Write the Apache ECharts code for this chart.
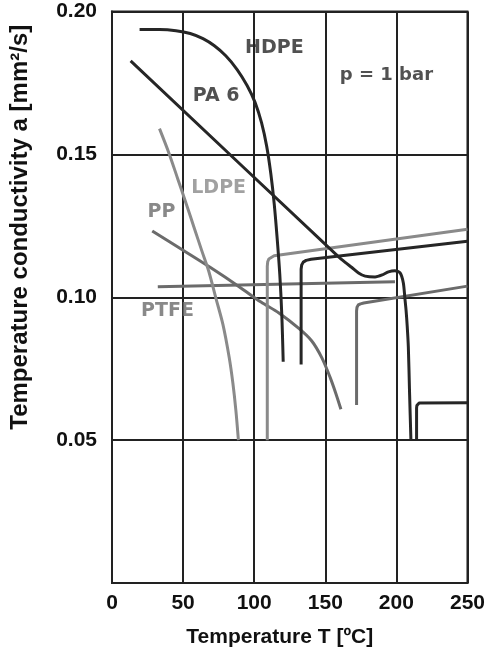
<!DOCTYPE html>
<html><head><meta charset="utf-8">
<script src="https://cdn.jsdelivr.net/npm/echarts/dist/echarts.min.js"></script>
<style>html,body{margin:0;padding:0;background:#fff}#c{width:488px;height:653px}</style>
</head><body><div id="c"></div><script>
// Temperature T [°C] vs temperature conductivity a [mm²/s]
const xTicks = [0, 50, 100, 150, 200, 250];
const yTicks = [0, 0.05, 0.10, 0.15, 0.20];

const hdpeSolid = [[19.4,0.1937],[33.4,0.1937],[45,0.1933],[55,0.1923],[64,0.1905],[72,0.1880],[80,0.1845],[88,0.1797],[95,0.1741],[100.6,0.1682],[105.2,0.1610],[108.8,0.1528],[111.7,0.1432],[114.1,0.1326],[116.2,0.1203],[118.0,0.1080],[119.4,0.0940],[120.4,0.0774]];
const hdpeMelt = [[133,0.0765],[133,0.1098],[133.4,0.1113],[134.5,0.1123],[136.5,0.1129],[140,0.1133],[250,0.1196]];

const pa6Solid = [[13.1,0.1827],[159,0.1143],[164,0.1122],[168.7,0.1104],[173.4,0.1085],[178,0.1074],[185,0.1071],[190,0.1078],[194.4,0.1089],[199,0.1093],[202.6,0.1085],[204.9,0.1050],[206,0.0995],[206.8,0.0955],[207.6,0.0900],[208.4,0.0827],[209.3,0.0660],[210.2,0.0504]];
const pa6Melt = [[214.2,0.0504],[214.2,0.0612],[214.4,0.0621],[215,0.0627],[216,0.0630],[250,0.0631]];

const ldpeSolid = [[33.4,0.1590],[40,0.1505],[46.2,0.1415],[52,0.1330],[58,0.1240],[63,0.1165],[68,0.1092],[73,0.0998],[78,0.0905],[82.4,0.0790],[85,0.0700],[87.1,0.0605],[88.9,0.0500]];
const ldpeMelt = [[109.2,0.0500],[109.2,0.1108],[109.5,0.1124],[110.3,0.1134],[111.7,0.1140],[114,0.1145],[250,0.1238]];

const ppSolid = [[28.3,0.1232],[49.7,0.1165],[69.8,0.1102],[89.4,0.1037],[104.8,0.0983],[117.4,0.0945],[131.4,0.0891],[140.5,0.0847],[147.7,0.0787],[153.6,0.0717],[157.3,0.0665],[161.0,0.0608]];
const ppMelt = [[172,0.0623],[172,0.0952],[172.3,0.0965],[173.2,0.0973],[174.8,0.0977],[177,0.0980],[250,0.1039]];

const ptfe = [[32.2,0.1037],[199,0.1054]];

const labelNames = ['HDPE', 'PA 6', 'LDPE', 'PP', 'PTFE', 'p = 1 bar'];
const labelAt = [[114.2,0.1871],[73.3,0.1705],[75.0,0.1381],[34.8,0.1299],[39.0,0.0953],[193,0.1777]];

const DARK = '#262626', LIGHT = '#8a8a8a', MID = '#6b6b6b';
const labelColors = [DARK, DARK, LIGHT, MID, MID, DARK];

function line(data, color, smooth) {
  return {type:'line', data:data, showSymbol:false, symbol:'none', smooth:smooth, silent:true,
    lineStyle:{color:color, width:3, cap:'butt', join:'round'}, z:3};
}

const chart = echarts.init(document.getElementById('c'), null, {renderer:'canvas'});
chart.setOption({
  animation:false,
  backgroundColor:'#fff',
  grid:{left:112, right:19, top:11.5, bottom:70, show:true, borderColor:'#222', borderWidth:2, backgroundColor:'transparent'},
  xAxis:{type:'value', min:xTicks[0], max:xTicks[xTicks.length-1], interval:xTicks[1]-xTicks[0],
    name:'Temperature T [ºC]', nameLocation:'middle', nameGap:44,
    nameTextStyle:{fontFamily:'Liberation Sans', fontWeight:'bold', fontSize:21, color:'#111', padding:[0,20,0,0]},
    axisLine:{show:true, lineStyle:{color:'#222', width:2}}, axisTick:{show:false},
    axisLabel:{fontFamily:'Liberation Sans', fontWeight:'bold', fontSize:21, color:'#111', margin:10},
    splitLine:{show:true, lineStyle:{color:'#222', width:2}}},
  yAxis:{type:'value', min:yTicks[0], max:yTicks[yTicks.length-1], interval:yTicks[1]-yTicks[0],
    name:'Temperature conductivity a [mm²/s]', nameLocation:'middle', nameGap:80,
    nameTextStyle:{fontFamily:'Liberation Sans', fontWeight:'bold', fontSize:24, color:'#111', padding:[0,0,0,140]},
    axisLine:{show:true, lineStyle:{color:'#222', width:2}}, axisTick:{show:false},
    axisLabel:{fontFamily:'Liberation Sans', fontWeight:'bold', fontSize:21, color:'#111', margin:15,
      formatter:function(v){ return v === 0 ? '' : v.toFixed(2); }},
    splitLine:{show:true, lineStyle:{color:'#222', width:2}}},
  series:[
    line(ptfe, MID, false),
    line(ppSolid, MID, 0.3),
    line(ppMelt, MID, false),
    line(ldpeSolid, LIGHT, 0.3),
    line(ldpeMelt, LIGHT, false),
    line(pa6Solid, DARK, 0.25),
    line(pa6Melt, DARK, false),
    line(hdpeSolid, DARK, 0.35),
    line(hdpeMelt, DARK, false),
    {type:'scatter', symbolSize:0, silent:true, z:5,
      data: labelNames.map(function(n,i){ return {name:n, value:labelAt[i],
        label:{show:true, position:'inside', formatter:n, color:labelColors[i],
          fontFamily:'DejaVu Sans', fontWeight:'bold', fontSize:(i === 5 ? 18 : 19)}}; })}
  ]
});
</script></body></html>
